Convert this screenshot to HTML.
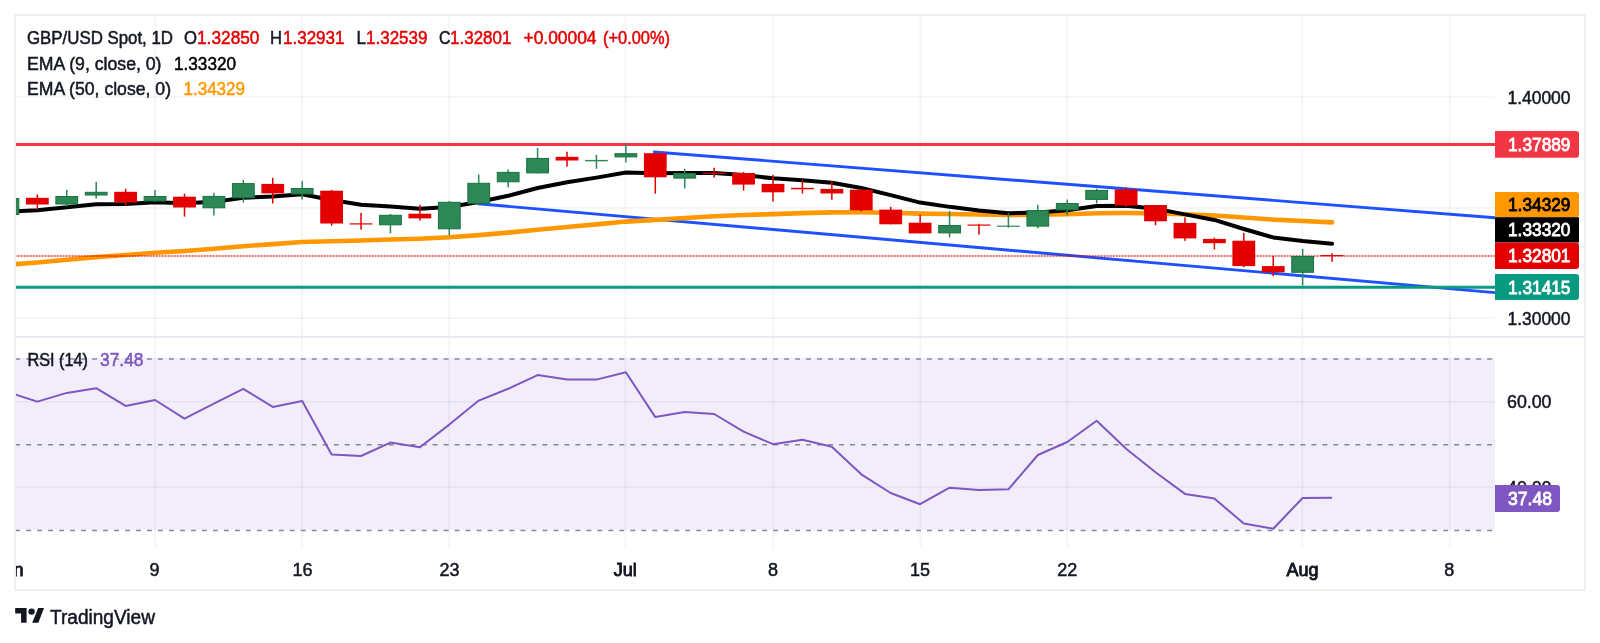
<!DOCTYPE html>
<html><head><meta charset="utf-8"><style>
html,body{margin:0;padding:0;background:#fff;width:1600px;height:643px;overflow:hidden}
svg{display:block;will-change:transform}
text{font-family:"Liberation Sans", sans-serif;}
</style></head><body>
<svg width="1600" height="643" viewBox="0 0 1600 643">
<defs>
<clipPath id="cm"><rect x="16" y="16" width="1479" height="321"/></clipPath>
<clipPath id="cr"><rect x="16" y="338" width="1479" height="210"/></clipPath>
<clipPath id="ct"><rect x="16" y="548" width="1568" height="41"/></clipPath>
</defs>
<rect x="0" y="0" width="1600" height="643" fill="#fff"/>

<rect x="16" y="358.2" width="1479" height="171.6" fill="#f1eef9"/>
<rect x="154.60" y="16" width="1.6" height="532" fill="rgba(42,46,57,0.05)"/>
<rect x="301.20" y="16" width="1.6" height="532" fill="rgba(42,46,57,0.05)"/>
<rect x="448.30" y="16" width="1.6" height="532" fill="rgba(42,46,57,0.05)"/>
<rect x="624.60" y="16" width="1.6" height="532" fill="rgba(42,46,57,0.05)"/>
<rect x="772.50" y="16" width="1.6" height="532" fill="rgba(42,46,57,0.05)"/>
<rect x="919.50" y="16" width="1.6" height="532" fill="rgba(42,46,57,0.05)"/>
<rect x="1066.60" y="16" width="1.6" height="532" fill="rgba(42,46,57,0.05)"/>
<rect x="1301.60" y="16" width="1.6" height="532" fill="rgba(42,46,57,0.05)"/>
<rect x="1448.80" y="16" width="1.6" height="532" fill="rgba(42,46,57,0.05)"/>
<rect x="16" y="96.30" width="1479" height="1.6" fill="rgba(42,46,57,0.05)"/>
<rect x="16" y="207.10" width="1479" height="1.6" fill="rgba(42,46,57,0.05)"/>
<rect x="16" y="317.30" width="1479" height="1.6" fill="rgba(42,46,57,0.05)"/>
<rect x="16" y="400.80" width="1479" height="1.6" fill="rgba(42,46,57,0.05)"/>
<rect x="16" y="486.30" width="1479" height="1.6" fill="rgba(42,46,57,0.05)"/>
<rect x="16" y="335.9" width="1568" height="2" fill="#e9eaf1"/>
<line x1="15.2" y1="359" x2="1495" y2="359" stroke="#858892" stroke-width="1.5" stroke-dasharray="4.9 6.085"/>
<line x1="15.2" y1="444.65" x2="1495" y2="444.65" stroke="#858892" stroke-width="1.5" stroke-dasharray="4.9 6.085"/>
<line x1="15.2" y1="530.5" x2="1495" y2="530.5" stroke="#858892" stroke-width="1.5" stroke-dasharray="4.9 6.085"/>
<g clip-path="url(#cm)">
<line x1="654.3" y1="152" x2="1495" y2="217.7" stroke="#1e50ff" stroke-width="2.9" stroke-linecap="round"/>
<line x1="478.4" y1="203.8" x2="1495" y2="292.6" stroke="#1e50ff" stroke-width="2.9" stroke-linecap="round"/>
<line x1="16" y1="144.4" x2="1495" y2="144.4" stroke="#f23645" stroke-width="3"/>
<line x1="16" y1="287.2" x2="1495" y2="287.2" stroke="#089981" stroke-width="3"/>
<polyline points="7.92,264.80 37.35,262.44 66.77,259.83 96.20,257.16 125.62,255.02 155.05,252.70 184.48,250.93 213.90,248.77 243.33,246.20 272.75,244.13 302.18,241.93 331.61,241.20 361.03,240.54 390.46,239.54 419.88,238.71 449.31,237.26 478.74,235.12 508.16,232.64 537.59,229.71 567.01,227.00 596.44,224.37 625.87,221.58 655.29,219.84 684.72,218.00 714.14,216.26 743.57,215.02 773.00,214.13 802.42,213.16 831.85,212.38 861.27,212.30 890.70,212.77 920.13,213.58 949.55,214.03 978.98,214.48 1008.40,214.92 1037.83,214.73 1067.26,214.27 1096.68,213.32 1126.11,213.01 1155.53,213.33 1184.96,214.32 1214.39,215.45 1243.81,217.44 1273.24,219.59 1302.66,221.02 1332.09,222.39" fill="none" stroke="#ff9800" stroke-width="4.6" stroke-linejoin="round" stroke-linecap="round"/>
<polyline points="7.92,211.60 37.35,210.18 66.77,207.34 96.20,204.24 125.62,203.89 155.05,202.31 184.48,203.35 213.90,201.86 243.33,197.77 272.75,196.50 302.18,194.33 331.61,199.97 361.03,204.65 390.46,206.48 419.88,208.67 449.31,207.09 478.74,202.03 508.16,195.81 537.59,188.03 567.01,182.32 596.44,177.64 625.87,172.55 655.29,173.30 684.72,173.04 714.14,172.95 743.57,175.08 773.00,178.33 802.42,180.32 831.85,182.76 861.27,188.06 890.70,195.11 920.13,202.57 949.55,206.86 978.98,210.40 1008.40,213.24 1037.83,212.41 1067.26,210.33 1096.68,206.05 1126.11,205.74 1155.53,208.65 1184.96,214.40 1214.39,219.96 1243.81,228.99 1273.24,237.45 1302.66,240.96 1332.09,243.79" fill="none" stroke="#000" stroke-width="4" stroke-linejoin="round" stroke-linecap="round"/>
<line x1="16" y1="256" x2="1495" y2="256" stroke="#e30000" stroke-width="2.2" stroke-dasharray="1.9 1.1" stroke-dashoffset="-1.7" opacity="0.6"/>
<rect x="7.17" y="196.00" width="1.5" height="21.00" fill="#2e8756"/>
<rect x="-2.98" y="198.50" width="21.8" height="16.00" fill="#2e8756" stroke="#17733f" stroke-width="1"/>
<rect x="36.60" y="194.50" width="1.5" height="15.00" fill="#e30000"/>
<rect x="25.95" y="197.80" width="22.8" height="6.70" fill="#e30000"/>
<rect x="66.02" y="189.80" width="1.5" height="16.70" fill="#2e8756"/>
<rect x="55.87" y="196.50" width="21.8" height="7.50" fill="#2e8756" stroke="#17733f" stroke-width="1"/>
<rect x="95.45" y="181.80" width="1.5" height="16.70" fill="#2e8756"/>
<rect x="85.30" y="192.30" width="21.8" height="2.70" fill="#2e8756" stroke="#17733f" stroke-width="1"/>
<rect x="124.87" y="188.80" width="1.5" height="16.70" fill="#e30000"/>
<rect x="114.22" y="191.80" width="22.8" height="10.70" fill="#e30000"/>
<rect x="154.30" y="189.80" width="1.5" height="11.70" fill="#2e8756"/>
<rect x="144.15" y="196.50" width="21.8" height="4.50" fill="#2e8756" stroke="#17733f" stroke-width="1"/>
<rect x="183.73" y="193.70" width="1.5" height="22.90" fill="#e30000"/>
<rect x="173.08" y="196.70" width="22.8" height="10.80" fill="#e30000"/>
<rect x="213.15" y="192.90" width="1.5" height="22.60" fill="#2e8756"/>
<rect x="203.00" y="196.40" width="21.8" height="11.40" fill="#2e8756" stroke="#17733f" stroke-width="1"/>
<rect x="242.58" y="179.80" width="1.5" height="22.80" fill="#2e8756"/>
<rect x="232.43" y="183.60" width="21.8" height="14.20" fill="#2e8756" stroke="#17733f" stroke-width="1"/>
<rect x="272.00" y="177.80" width="1.5" height="25.70" fill="#e30000"/>
<rect x="261.35" y="183.90" width="22.8" height="9.50" fill="#e30000"/>
<rect x="301.43" y="180.90" width="1.5" height="18.70" fill="#2e8756"/>
<rect x="291.28" y="188.50" width="21.8" height="5.50" fill="#2e8756" stroke="#17733f" stroke-width="1"/>
<rect x="330.86" y="189.80" width="1.5" height="35.90" fill="#e30000"/>
<rect x="320.21" y="190.70" width="22.8" height="32.80" fill="#e30000"/>
<rect x="360.28" y="213.00" width="1.5" height="16.60" fill="#e30000"/>
<rect x="349.63" y="223.30" width="22.8" height="1.20" fill="#e30000"/>
<rect x="389.71" y="214.00" width="1.5" height="19.30" fill="#2e8756"/>
<rect x="379.56" y="215.30" width="21.8" height="9.50" fill="#2e8756" stroke="#17733f" stroke-width="1"/>
<rect x="419.13" y="204.80" width="1.5" height="15.80" fill="#e30000"/>
<rect x="408.48" y="213.70" width="22.8" height="4.70" fill="#e30000"/>
<rect x="448.56" y="201.00" width="1.5" height="34.30" fill="#2e8756"/>
<rect x="438.41" y="202.30" width="21.8" height="26.50" fill="#2e8756" stroke="#17733f" stroke-width="1"/>
<rect x="477.99" y="174.50" width="1.5" height="29.30" fill="#2e8756"/>
<rect x="467.84" y="183.30" width="21.8" height="20.00" fill="#2e8756" stroke="#17733f" stroke-width="1"/>
<rect x="507.41" y="169.50" width="1.5" height="17.90" fill="#2e8756"/>
<rect x="497.26" y="172.40" width="21.8" height="9.40" fill="#2e8756" stroke="#17733f" stroke-width="1"/>
<rect x="536.84" y="147.80" width="1.5" height="25.60" fill="#2e8756"/>
<rect x="526.69" y="158.40" width="21.8" height="14.50" fill="#2e8756" stroke="#17733f" stroke-width="1"/>
<rect x="566.26" y="151.70" width="1.5" height="15.00" fill="#e30000"/>
<rect x="555.61" y="156.80" width="22.8" height="3.70" fill="#e30000"/>
<rect x="595.69" y="154.80" width="1.5" height="14.00" fill="#2e8756"/>
<rect x="585.04" y="159.90" width="22.8" height="1.40" fill="#2e8756"/>
<rect x="625.12" y="143.90" width="1.5" height="18.60" fill="#2e8756"/>
<rect x="614.97" y="153.70" width="21.8" height="3.20" fill="#2e8756" stroke="#17733f" stroke-width="1"/>
<rect x="654.54" y="153.00" width="1.5" height="40.70" fill="#e30000"/>
<rect x="643.89" y="153.20" width="22.8" height="24.10" fill="#e30000"/>
<rect x="683.97" y="168.80" width="1.5" height="19.70" fill="#2e8756"/>
<rect x="673.82" y="173.50" width="21.8" height="4.60" fill="#2e8756" stroke="#17733f" stroke-width="1"/>
<rect x="713.39" y="167.70" width="1.5" height="9.90" fill="#e30000"/>
<rect x="702.74" y="172.70" width="22.8" height="1.20" fill="#e30000"/>
<rect x="742.82" y="171.90" width="1.5" height="18.60" fill="#e30000"/>
<rect x="732.17" y="173.00" width="22.8" height="11.60" fill="#e30000"/>
<rect x="772.25" y="174.90" width="1.5" height="26.70" fill="#e30000"/>
<rect x="761.60" y="183.90" width="22.8" height="8.40" fill="#e30000"/>
<rect x="801.67" y="180.30" width="1.5" height="13.20" fill="#e30000"/>
<rect x="791.02" y="187.80" width="22.8" height="1.50" fill="#e30000"/>
<rect x="831.10" y="180.80" width="1.5" height="19.00" fill="#e30000"/>
<rect x="820.45" y="188.90" width="22.8" height="4.60" fill="#e30000"/>
<rect x="860.52" y="188.90" width="1.5" height="22.50" fill="#e30000"/>
<rect x="849.87" y="189.70" width="22.8" height="20.60" fill="#e30000"/>
<rect x="889.95" y="206.80" width="1.5" height="17.50" fill="#e30000"/>
<rect x="879.30" y="209.60" width="22.8" height="14.70" fill="#e30000"/>
<rect x="919.38" y="214.70" width="1.5" height="18.70" fill="#e30000"/>
<rect x="908.73" y="222.70" width="22.8" height="10.70" fill="#e30000"/>
<rect x="948.80" y="211.00" width="1.5" height="26.40" fill="#2e8756"/>
<rect x="938.65" y="225.50" width="21.8" height="7.40" fill="#2e8756" stroke="#17733f" stroke-width="1"/>
<rect x="978.23" y="223.80" width="1.5" height="10.80" fill="#e30000"/>
<rect x="967.58" y="224.50" width="22.8" height="1.20" fill="#e30000"/>
<rect x="1007.65" y="212.90" width="1.5" height="14.80" fill="#2e8756"/>
<rect x="997.00" y="225.60" width="22.8" height="1.20" fill="#2e8756"/>
<rect x="1037.08" y="204.80" width="1.5" height="23.60" fill="#2e8756"/>
<rect x="1026.93" y="210.60" width="21.8" height="15.50" fill="#2e8756" stroke="#17733f" stroke-width="1"/>
<rect x="1066.51" y="199.50" width="1.5" height="15.90" fill="#2e8756"/>
<rect x="1056.36" y="203.50" width="21.8" height="6.40" fill="#2e8756" stroke="#17733f" stroke-width="1"/>
<rect x="1095.93" y="188.70" width="1.5" height="14.70" fill="#2e8756"/>
<rect x="1085.78" y="190.40" width="21.8" height="9.00" fill="#2e8756" stroke="#17733f" stroke-width="1"/>
<rect x="1125.36" y="187.40" width="1.5" height="19.60" fill="#e30000"/>
<rect x="1114.71" y="189.40" width="22.8" height="16.10" fill="#e30000"/>
<rect x="1154.78" y="205.00" width="1.5" height="20.20" fill="#e30000"/>
<rect x="1144.13" y="205.00" width="22.8" height="16.30" fill="#e30000"/>
<rect x="1184.21" y="217.40" width="1.5" height="23.40" fill="#e30000"/>
<rect x="1173.56" y="222.90" width="22.8" height="15.50" fill="#e30000"/>
<rect x="1213.64" y="237.60" width="1.5" height="11.90" fill="#e30000"/>
<rect x="1202.99" y="238.90" width="22.8" height="4.30" fill="#e30000"/>
<rect x="1243.06" y="233.00" width="1.5" height="34.20" fill="#e30000"/>
<rect x="1232.41" y="240.70" width="22.8" height="25.40" fill="#e30000"/>
<rect x="1272.49" y="256.00" width="1.5" height="20.20" fill="#e30000"/>
<rect x="1261.84" y="266.10" width="22.8" height="6.20" fill="#e30000"/>
<rect x="1301.91" y="249.00" width="1.5" height="36.50" fill="#2e8756"/>
<rect x="1291.76" y="256.50" width="21.8" height="15.80" fill="#2e8756" stroke="#17733f" stroke-width="1"/>
<rect x="1331.34" y="253.20" width="1.5" height="8.70" fill="#e30000"/>
<rect x="1320.69" y="255.00" width="22.8" height="1.20" fill="#e30000"/>
</g>
<g clip-path="url(#cr)">
<polyline points="7.92,392.2 37.35,401.60 66.77,392.90 96.20,388.20 125.62,405.90 155.05,400.00 184.48,418.70 213.90,403.70 243.33,388.80 272.75,406.90 302.18,401.00 331.61,454.40 361.03,456.00 390.46,442.60 419.88,447.30 449.31,424.60 478.74,400.60 508.16,388.80 537.59,375.10 567.01,379.50 596.44,379.60 625.87,372.30 655.29,417.10 684.72,412.10 714.14,414.00 743.57,431.70 773.00,444.20 802.42,439.80 831.85,446.70 861.27,474.30 890.70,493.00 920.13,504.20 949.55,487.70 978.98,489.90 1008.40,489.30 1037.83,455.00 1067.26,442.00 1096.68,420.80 1126.11,448.80 1155.53,472.20 1184.96,493.90 1214.39,498.60 1243.81,523.50 1273.24,528.70 1302.66,498.00 1332.09,497.80" fill="none" stroke="#7e57c2" stroke-width="2" stroke-linejoin="round"/>
</g>
<rect x="15" y="15" width="1570" height="575" fill="none" stroke="#eef0f4" stroke-width="2"/>
<text x="27" y="43.7" fill="#131722" font-size="18" stroke="#131722" stroke-width="0.5" textLength="146" lengthAdjust="spacingAndGlyphs">GBP/USD Spot, 1D</text>
<text x="184" y="43.7" fill="#131722" font-size="18" stroke="#131722" stroke-width="0.5" textLength="13" lengthAdjust="spacingAndGlyphs">O</text>
<text x="197" y="43.7" fill="#e50000" font-size="18" stroke="#e50000" stroke-width="0.5" textLength="62.5" lengthAdjust="spacingAndGlyphs">1.32850</text>
<text x="270" y="43.7" fill="#131722" font-size="18" stroke="#131722" stroke-width="0.5" textLength="12" lengthAdjust="spacingAndGlyphs">H</text>
<text x="283" y="43.7" fill="#e50000" font-size="18" stroke="#e50000" stroke-width="0.5" textLength="61.5" lengthAdjust="spacingAndGlyphs">1.32931</text>
<text x="356.5" y="43.7" fill="#131722" font-size="18" stroke="#131722" stroke-width="0.5" textLength="9.5" lengthAdjust="spacingAndGlyphs">L</text>
<text x="366" y="43.7" fill="#e50000" font-size="18" stroke="#e50000" stroke-width="0.5" textLength="61.5" lengthAdjust="spacingAndGlyphs">1.32539</text>
<text x="439" y="43.7" fill="#131722" font-size="18" stroke="#131722" stroke-width="0.5" textLength="11.5" lengthAdjust="spacingAndGlyphs">C</text>
<text x="450" y="43.7" fill="#e50000" font-size="18" stroke="#e50000" stroke-width="0.5" textLength="61.5" lengthAdjust="spacingAndGlyphs">1.32801</text>
<text x="523.5" y="43.7" fill="#e50000" font-size="18" stroke="#e50000" stroke-width="0.5" textLength="73" lengthAdjust="spacingAndGlyphs">+0.00004</text>
<text x="603" y="43.7" fill="#e50000" font-size="18" stroke="#e50000" stroke-width="0.5" textLength="67" lengthAdjust="spacingAndGlyphs">(+0.00%)</text>
<text x="27" y="69.6" fill="#131722" font-size="18" stroke="#131722" stroke-width="0.5" textLength="134.5" lengthAdjust="spacingAndGlyphs">EMA (9, close, 0)</text>
<text x="174" y="69.6" fill="#000" font-size="18" stroke="#000" stroke-width="0.5" textLength="62" lengthAdjust="spacingAndGlyphs">1.33320</text>
<text x="27" y="95.1" fill="#131722" font-size="18" stroke="#131722" stroke-width="0.5" textLength="144" lengthAdjust="spacingAndGlyphs">EMA (50, close, 0)</text>
<text x="183.5" y="95.1" fill="#ff9800" font-size="18" stroke="#ff9800" stroke-width="0.5" textLength="61.5" lengthAdjust="spacingAndGlyphs">1.34329</text>
<text x="27.5" y="365.5" fill="#131722" font-size="18" stroke="#131722" stroke-width="0.5" textLength="60.5" lengthAdjust="spacingAndGlyphs">RSI (14)</text>
<text x="100" y="365.5" fill="#7e57c2" font-size="18" stroke="#7e57c2" stroke-width="0.5" textLength="43.5" lengthAdjust="spacingAndGlyphs">37.48</text>
<text x="1507.5" y="104" fill="#131722" font-size="18" stroke="#131722" stroke-width="0.5" textLength="63" lengthAdjust="spacingAndGlyphs">1.40000</text>
<text x="1507.5" y="325" fill="#131722" font-size="18" stroke="#131722" stroke-width="0.5" textLength="63" lengthAdjust="spacingAndGlyphs">1.30000</text>
<text x="1507" y="408" fill="#131722" font-size="18" stroke="#131722" stroke-width="0.5" textLength="44.5" lengthAdjust="spacingAndGlyphs">60.00</text>
<text x="1507" y="494" fill="#131722" font-size="18" stroke="#131722" stroke-width="0.5" textLength="44.5" lengthAdjust="spacingAndGlyphs">40.00</text>
<path d="M1495 130.9 H1576 Q1579 130.9 1579 133.9 V154.7 Q1579 157.7 1576 157.7 H1495 Z" fill="#f23645"/>
<text x="1508" y="150.8" fill="#fff" font-size="18" textLength="62.5" lengthAdjust="spacingAndGlyphs" stroke="#fff" stroke-width="0.8">1.37889</text>
<path d="M1495 192 H1576 Q1579 192 1579 195 V214.2 Q1579 217.2 1576 217.2 H1495 Z" fill="#ff9800"/>
<text x="1508" y="211.1" fill="#000" font-size="18" textLength="62.5" lengthAdjust="spacingAndGlyphs" stroke="#000" stroke-width="0.8">1.34329</text>
<rect x="1495" y="217.2" width="84" height="25.3" fill="#000"/>
<text x="1508" y="236.35" fill="#fff" font-size="18" textLength="62.5" lengthAdjust="spacingAndGlyphs" stroke="#fff" stroke-width="0.8">1.33320</text>
<path d="M1495 242.5 H1576 Q1579 242.5 1579 245.5 V266 Q1579 269 1576 269 H1495 Z" fill="#e50000"/>
<text x="1508" y="262.25" fill="#fff" font-size="18" textLength="62.5" lengthAdjust="spacingAndGlyphs" stroke="#fff" stroke-width="0.8">1.32801</text>
<path d="M1495 274 H1576 Q1579 274 1579 277 V297 Q1579 300 1576 300 H1495 Z" fill="#089981"/>
<text x="1508" y="293.5" fill="#fff" font-size="18" textLength="62.5" lengthAdjust="spacingAndGlyphs" stroke="#fff" stroke-width="0.8">1.31415</text>
<path d="M1495 485 H1557 Q1560 485 1560 488 V509 Q1560 512 1557 512 H1495 Z" fill="#7e57c2"/>
<text x="1508" y="505" fill="#fff" font-size="18" textLength="44" lengthAdjust="spacingAndGlyphs" stroke="#fff" stroke-width="0.8">37.48</text>
<g clip-path="url(#ct)">
<text x="8.9" y="576" fill="#131722" font-size="18" stroke="#131722" stroke-width="0.9" text-anchor="middle">Jun</text>
<text x="154.5" y="576" fill="#131722" font-size="18" stroke="#131722" stroke-width="0.5" text-anchor="middle">9</text>
<text x="302.4" y="576" fill="#131722" font-size="18" stroke="#131722" stroke-width="0.5" text-anchor="middle">16</text>
<text x="449.5" y="576" fill="#131722" font-size="18" stroke="#131722" stroke-width="0.5" text-anchor="middle">23</text>
<text x="773.1" y="576" fill="#131722" font-size="18" stroke="#131722" stroke-width="0.5" text-anchor="middle">8</text>
<text x="920" y="576" fill="#131722" font-size="18" stroke="#131722" stroke-width="0.5" text-anchor="middle">15</text>
<text x="1067.3" y="576" fill="#131722" font-size="18" stroke="#131722" stroke-width="0.5" text-anchor="middle">22</text>
<text x="1449.3" y="576" fill="#131722" font-size="18" stroke="#131722" stroke-width="0.5" text-anchor="middle">8</text>
<text x="625.3" y="576" fill="#131722" font-size="18" stroke="#131722" stroke-width="0.9" text-anchor="middle">Jul</text>
<text x="1302.5" y="576" fill="#131722" font-size="18" stroke="#131722" stroke-width="0.9" text-anchor="middle">Aug</text>
</g>
<g fill="#131722"><path d="M15.2 608.1H26.6V622.7H21.1V613.6H15.2Z"/><circle cx="31.6" cy="611.6" r="3.2"/><path d="M32.2 622.7L38.2 608.1H44L38.4 622.7Z"/></g>
<text x="50" y="623.8" fill="#131722" font-size="20" stroke="#131722" stroke-width="0.5" textLength="105" lengthAdjust="spacingAndGlyphs">TradingView</text>
</svg></body></html>
